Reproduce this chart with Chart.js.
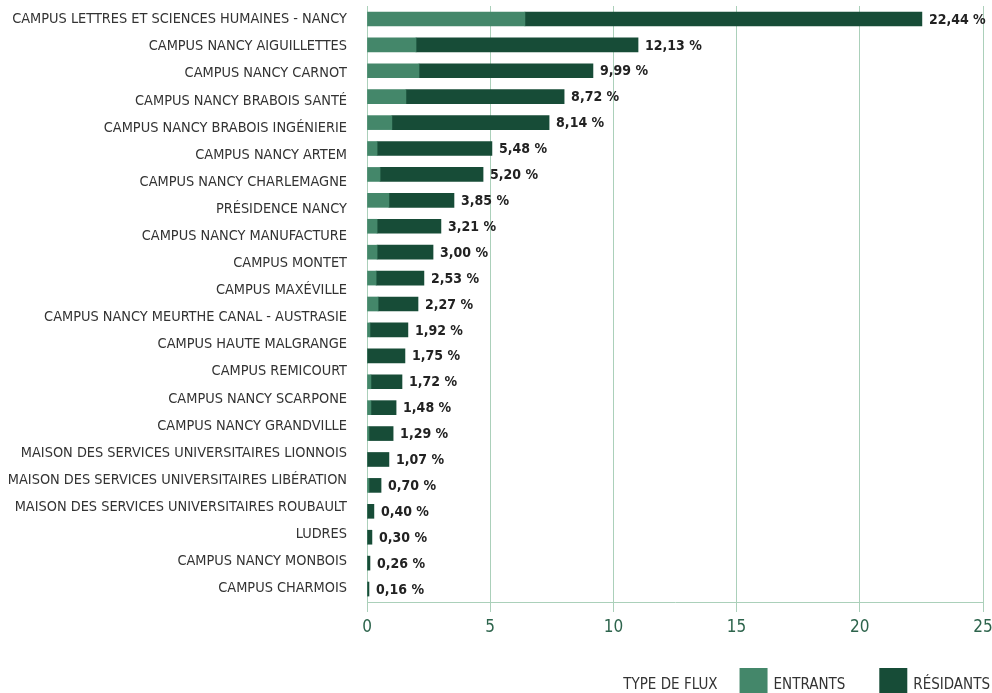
<!DOCTYPE html>
<html>
<head>
<meta charset="utf-8">
<script src="https://cdn.jsdelivr.net/npm/chart.js@4/dist/chart.umd.min.js"></script>
<style>
  html, body { margin: 0; padding: 0; background: #ffffff; overflow: hidden; }
  #wrap { position: relative; width: 992px; height: 693px; }
</style>
</head>
<body>
<div id="wrap"><canvas id="c"></canvas></div>
<script>
// Tick labels shown on the category axis (22 labels, as in the reference)
const tickLabels = [
  "CAMPUS LETTRES ET SCIENCES HUMAINES - NANCY",
  "CAMPUS NANCY AIGUILLETTES",
  "CAMPUS NANCY CARNOT",
  "CAMPUS NANCY BRABOIS SANTÉ",
  "CAMPUS NANCY BRABOIS INGÉNIERIE",
  "CAMPUS NANCY ARTEM",
  "CAMPUS NANCY CHARLEMAGNE",
  "PRÉSIDENCE NANCY",
  "CAMPUS NANCY MANUFACTURE",
  "CAMPUS MONTET",
  "CAMPUS MAXÉVILLE",
  "CAMPUS NANCY MEURTHE CANAL - AUSTRASIE",
  "CAMPUS HAUTE MALGRANGE",
  "CAMPUS REMICOURT",
  "CAMPUS NANCY SCARPONE",
  "CAMPUS NANCY GRANDVILLE",
  "MAISON DES SERVICES UNIVERSITAIRES LIONNOIS",
  "MAISON DES SERVICES UNIVERSITAIRES LIBÉRATION",
  "MAISON DES SERVICES UNIVERSITAIRES ROUBAULT",
  "LUDRES",
  "CAMPUS NANCY MONBOIS",
  "CAMPUS CHARMOIS"
];

// Value labels printed at the end of each bar (23 bars)
const valueLabels = [
  "22,44 %", "12,13 %", "9,99 %", "8,72 %", "8,14 %", "5,48 %", "5,20 %",
  "3,85 %", "3,21 %", "3,00 %", "2,53 %", "2,27 %", "1,92 %", "1,75 %",
  "1,72 %", "1,48 %", "1,29 %", "1,07 %", "0,70 %", "0,40 %", "0,30 %",
  "0,26 %", "0,16 %"
];

// Series values
const entrants = [
  6.41, 1.99, 2.11, 1.58, 1.01, 0.41, 0.53, 0.89, 0.41, 0.41, 0.37, 0.45,
  0.12, 0.00, 0.16, 0.16, 0.08, 0.00, 0.08, 0.00, 0.00, 0.00, 0.00
];
const residants = [
  16.11, 9.01, 7.06, 6.42, 6.38, 4.66, 4.18, 2.64, 2.59, 2.27, 1.94, 1.62,
  1.54, 1.54, 1.26, 1.02, 0.98, 0.89, 0.49, 0.28, 0.20, 0.12, 0.08
];

const xTicks = [0, 5, 10, 15, 20, 25];
const legendTitle = "TYPE DE FLUX";
const seriesNames = ["ENTRANTS", "RÉSIDANTS"];

const COL_ENT = "#44876a";
const COL_RES = "#174c37";
const GRID = "#abd0ba";
const FONT = "'Liberation Sans Narrow', 'DejaVu Sans Condensed', 'Roboto', sans-serif";

const valueLabelPlugin = {
  id: "valueLabels",
  afterDatasetsDraw(chart) {
    const ctx = chart.ctx;
    const meta = chart.getDatasetMeta(chart.data.datasets.length - 1);
    ctx.save();
    ctx.font = "bold 14px " + FONT;
    ctx.fillStyle = "#222222";
    ctx.textAlign = "left";
    ctx.textBaseline = "middle";
    meta.data.forEach((bar, i) => {
      ctx.fillText(valueLabels[i], bar.x + 7, bar.y + 1);
    });
    ctx.restore();
  }
};

// Legend drawn at the bottom right, laid out from the right edge
const legendPlugin = {
  id: "flowLegend",
  afterDraw(chart) {
    const ctx = chart.ctx;
    const ds = chart.data.datasets;
    ctx.save();
    ctx.font = "15px " + FONT;
    ctx.fillStyle = "#333333";
    ctx.textBaseline = "middle";
    ctx.textAlign = "left";
    const textY = 685;
    const boxTop = 668, boxW = 28, boxH = 28, gapBoxText = 6, gapItems = 34, gapTitle = 22;
    let right = 990;
    const items = ds.map(d => ({ text: d.label, color: d.backgroundColor })).reverse();
    let leftMost = right;
    items.forEach(it => {
      const w = ctx.measureText(it.text).width;
      const tx = right - w;
      const bx = tx - gapBoxText - boxW;
      ctx.fillStyle = it.color;
      ctx.fillRect(bx, boxTop, boxW, boxH);
      ctx.fillStyle = "#333333";
      ctx.fillText(it.text, tx, textY);
      right = bx - gapItems;
      leftMost = bx;
    });
    const tw = ctx.measureText(legendTitle).width;
    ctx.fillText(legendTitle, leftMost - gapTitle - tw, textY);
    ctx.restore();
  }
};

new Chart(document.getElementById("c"), {
  type: "bar",
  data: {
    labels: valueLabels,
    datasets: [
      { label: seriesNames[0], data: entrants, backgroundColor: COL_ENT, xAxisID: "x", yAxisID: "yb", barThickness: 14, borderWidth: 0 },
      { label: seriesNames[1], data: residants, backgroundColor: COL_RES, xAxisID: "x", yAxisID: "yb", barThickness: 14, borderWidth: 0 }
    ]
  },
  options: {
    indexAxis: "y",
    responsive: true,
    maintainAspectRatio: false,
    animation: false,
    layout: { padding: { top: 6, right: 9, left: 0, bottom: 43 } },
    scales: {
      x: {
        type: "linear",
        position: "bottom",
        stacked: true,
        min: 0,
        max: 25,
        afterBuildTicks(scale) { scale.ticks = xTicks.map(v => ({ value: v })); },
        grid: { color: GRID, lineWidth: 1, tickLength: 10, drawTicks: true },
        border: { display: true, color: GRID, width: 1 },
        ticks: { color: "#2d644c", font: { family: FONT, size: 17 }, padding: 5 },
        afterFit(scale) {
          scale.height = 48;
          scale.paddingLeft = 0;
          scale.paddingRight = 0;
        }
      },
      yb: {
        type: "category",
        position: "left",
        stacked: true,
        offset: true,
        display: false,
        labels: valueLabels
      },
      y: {
        type: "category",
        position: "left",
        offset: true,
        labels: tickLabels,
        grid: { display: false, drawTicks: false, tickLength: 0 },
        border: { display: false },
        ticks: { color: "#333333", font: { family: FONT, size: 14.4 }, padding: 20, autoSkip: false },
        afterFit(scale) {
          scale.width = 367;
          scale.paddingTop = 0;
          scale.paddingBottom = 0;
        }
      }
    },
    plugins: {
      tooltip: { enabled: false },
      legend: { display: false }
    }
  },
  plugins: [valueLabelPlugin, legendPlugin]
});
</script>
</body>
</html>
